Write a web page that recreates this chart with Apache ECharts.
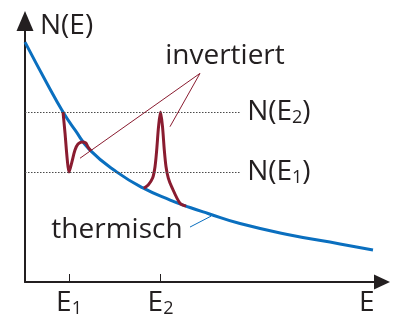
<!DOCTYPE html>
<html>
<head>
<meta charset="utf-8">
<script src="https://cdn.jsdelivr.net/npm/echarts@6/dist/echarts.min.js"></script>
<style>
  html, body { margin: 0; padding: 0; background: #ffffff; }
  #chart { width: 404px; height: 323px; }
</style>
</head>
<body>
<div id="chart"></div>
<script>
// Energy levels marked on the E axis
const levelE = [1.0, 3.08];                 // E1, E2
const levelTickLabels = ['E{s|1}', 'E{s|2}'];
const axisTitleE = 7.77;                    // where the plain "E" sits under the axis

// Population levels drawn as dotted guides
const levelN = [4.04, 6.25];                // N(E1), N(E2)
const levelLabels = ['N(E{s|1})', 'N(E{s|2})'];
const levelLineEnd = 4.89;

// Thermal (Boltzmann-like) distribution N(E)
const thermalE = [0, 0.5, 0.864, 1.136, 1.477, 2.09, 2.68, 3.30, 3.75, 4.16, 4.886, 6.023, 7.159, 7.909];
const thermalN = [8.82, 7.30, 6.25, 5.59, 4.85, 4.04, 3.46, 3.01, 2.74, 2.52, 2.15, 1.73, 1.40, 1.18];

// Inverted distribution: hole burnt at E1
const dipE = [0.864, 0.909, 0.961, 1.0, 1.061, 1.136, 1.205, 1.295, 1.38, 1.432, 1.5];
const dipN = [6.25, 5.48, 4.49, 4.04, 4.38, 4.85, 5.07, 5.15, 5.11, 4.96, 4.82];

// Inverted distribution: overpopulated peak at E2
const peakE = [2.70, 2.80, 2.90, 2.955, 2.993, 3.035, 3.08, 3.125, 3.166, 3.205, 3.257, 3.334, 3.52, 3.66];
const peakN = [3.45, 3.57, 3.82, 4.24, 4.85, 5.71, 6.25, 5.71, 4.85, 4.24, 3.82, 3.50, 2.90, 2.79];

const zip = (xs, ys) => xs.map((x, i) => [x, ys[i]]);

const FONT = "'Open Sans', sans-serif";
const INK = '#231f20';
const BLUE = '#0a6fbf';
const RED = '#8a1c30';
const X_MAX = 357 / 44;
const Y_MAX = 261 / 27.2;

const sub = {
  s: { fontFamily: FONT, fontSize: 18, lineHeight: 14, verticalAlign: 'bottom', color: INK }
};

const chart = echarts.init(document.getElementById('chart'), null, { renderer: 'canvas' });

chart.setOption({
  animation: false,
  backgroundColor: '#ffffff',
  grid: { left: 25, right: 22, top: 21, bottom: 41, containLabel: false },
  xAxis: {
    type: 'value',
    min: 0,
    max: X_MAX,
    splitLine: { show: false },
    axisLine: {
      show: true,
      onZero: false,
      lineStyle: { color: INK, width: 2 },
      symbol: ['none', 'triangle'],
      symbolSize: [15, 16]
    },
    axisTick: {
      show: true,
      inside: true,
      length: 8,
      customValues: levelE,
      lineStyle: { color: INK, width: 1 }
    },
    axisLabel: {
      show: true,
      margin: 6,
      customValues: levelE.concat([axisTitleE]),
      formatter: (v) => {
        const i = levelE.indexOf(v);
        return i >= 0 ? levelTickLabels[i] : 'E';
      },
      fontFamily: FONT,
      fontSize: 28,
      lineHeight: 30,
      color: INK,
      rich: sub
    }
  },
  yAxis: {
    type: 'value',
    min: 0,
    max: Y_MAX,
    splitLine: { show: false },
    axisTick: { show: false },
    axisLabel: { show: false },
    axisLine: {
      show: true,
      onZero: false,
      lineStyle: { color: INK, width: 2 },
      symbol: ['none', 'triangle'],
      symbolSize: [17, 20]
    },
    name: 'N(E)',
    nameLocation: 'end',
    nameGap: -5,
    nameTextStyle: {
      fontFamily: FONT,
      fontSize: 28,
      color: INK,
      align: 'left',
      verticalAlign: 'middle',
      padding: [0, 0, 0, 15]
    }
  },
  series: [
    {
      name: 'thermisch',
      type: 'line',
      data: zip(thermalE, thermalN),
      smooth: 0.5,
      showSymbol: false,
      symbol: 'none',
      lineStyle: { color: BLUE, width: 3 },
      z: 3,
      markLine: {
        silent: true,
        symbol: ['none', 'none'],
        label: { show: false },
        data: [
          ...levelN.map((n, i) => [
            {
              coord: [0, n],
              lineStyle: { color: '#4a4a4a', width: 1, type: [1.5, 1.5] },
              label: {
                show: true,
                position: 'end',
                distance: 7,
                formatter: levelLabels[i],
                fontFamily: FONT,
                fontSize: 28,
                lineHeight: 30,
                color: INK,
                rich: sub
              }
            },
            { coord: [levelLineEnd, n] }
          ]),
          [
            { coord: [3.75, 2.02], lineStyle: { color: BLUE, width: 1, type: 'solid' } },
            { coord: [4.227, 2.42] }
          ]
        ]
      },
      markPoint: {
        silent: true,
        symbol: 'circle',
        symbolSize: 1,
        itemStyle: { color: 'rgba(0,0,0,0)' },
        label: {
          show: true,
          position: 'inside',
          fontFamily: FONT,
          fontSize: 28,
          color: INK
        },
        data: [{ coord: [2.09, 1.91], label: { formatter: 'thermisch' } }]
      }
    },
    {
      name: 'invertiert E1',
      type: 'line',
      data: zip(dipE, dipN),
      smooth: 0.3,
      showSymbol: false,
      symbol: 'none',
      lineStyle: { color: RED, width: 3 },
      z: 4,
      markLine: {
        silent: true,
        symbol: ['none', 'none'],
        label: { show: false },
        lineStyle: { color: RED, width: 1, type: 'solid' },
        data: [
          [{ coord: [3.977, 7.67] }, { coord: [1.25, 4.55] }],
          [{ coord: [3.977, 7.67] }, { coord: [3.295, 5.71] }]
        ]
      },
      markPoint: {
        silent: true,
        symbol: 'circle',
        symbolSize: 1,
        itemStyle: { color: 'rgba(0,0,0,0)' },
        label: {
          show: true,
          position: 'inside',
          fontFamily: FONT,
          fontSize: 28,
          color: INK
        },
        data: [{ coord: [4.545, 8.31], label: { formatter: 'invertiert' } }]
      }
    },
    {
      name: 'invertiert E2',
      type: 'line',
      data: zip(peakE, peakN),
      smooth: 0.3,
      showSymbol: false,
      symbol: 'none',
      lineStyle: { color: RED, width: 3 },
      z: 4
    }
  ]
});
</script>
</body>
</html>
